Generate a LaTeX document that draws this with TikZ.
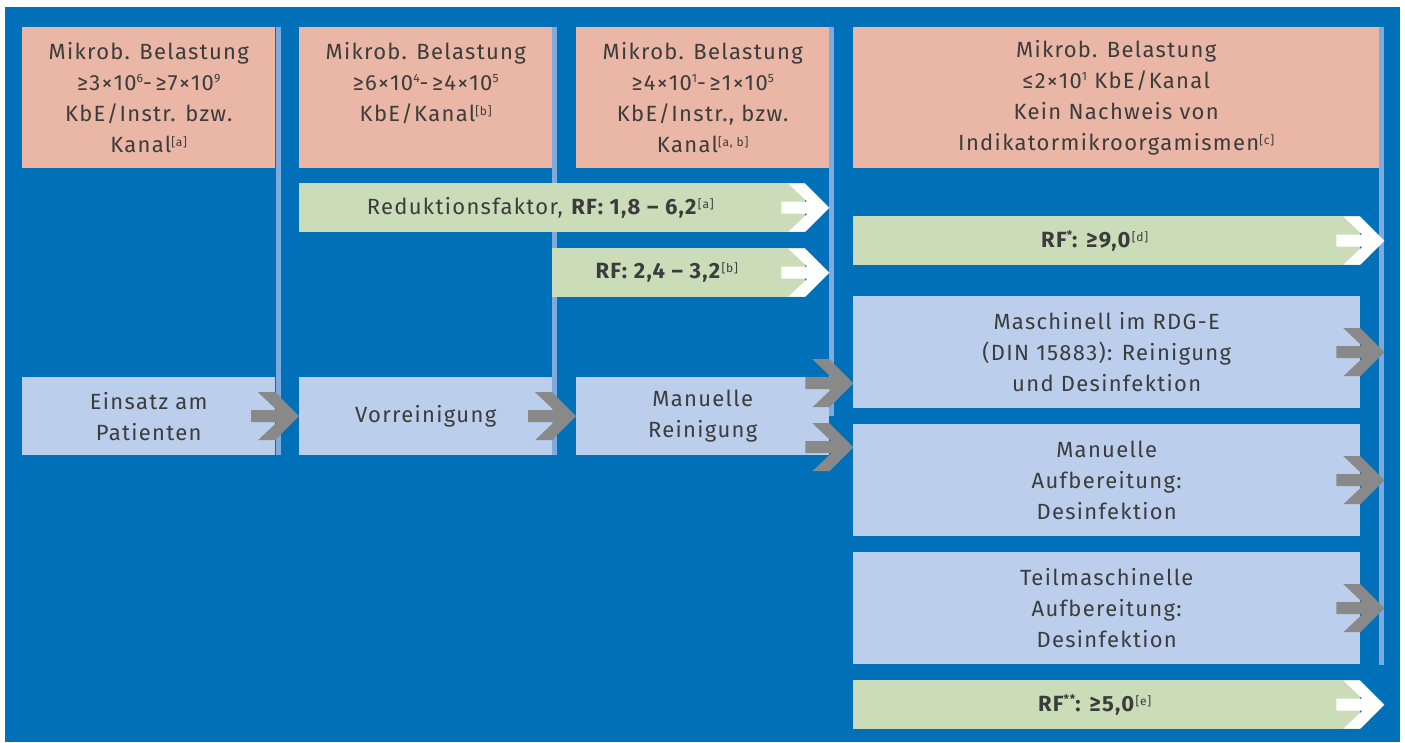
\documentclass[tikz,border=0pt]{standalone}
\usepackage{fontspec}
\setmainfont{Fira Sans}[LetterSpace=6]
\usepackage{tikz}
\usetikzlibrary{calc}
\definecolor{ab_bg}{RGB}{0, 112, 184}
\definecolor{ab_pink}{RGB}{234, 182, 165}
\definecolor{ab_green}{RGB}{203, 220, 185}
\definecolor{ab_blue}{RGB}{187, 206, 236}
\definecolor{ab_line}{RGB}{127, 170, 221}
\definecolor{ab_gray}{RGB}{137, 137, 137}
\definecolor{ab_text}{RGB}{60, 60, 60}
\newcommand{\hoch}[1]{\raisebox{8pt}{\fontsize{12}{12}\selectfont #1}}
\newcommand{\quelle}[1]{\raisebox{6pt}{\fontsize{12}{12}\selectfont\mdseries [#1]}}
\tikzstyle{hd}=[rectangle,fill=ab_pink,anchor=north west,inner sep=0pt,
  minimum height=141pt,align=center,text=ab_text,font=\fontsize{22}{31}\selectfont]
\tikzstyle{st}=[rectangle,fill=ab_blue,anchor=north west,inner sep=0pt,
  align=center,text=ab_text,font=\fontsize{22}{31}\selectfont]
\tikzstyle{rf}=[rectangle,fill=ab_green,anchor=north west,inner sep=0pt,
  minimum height=49pt,text=ab_text,font=\fontsize{22}{31}\selectfont,
  execute at end node=\hspace*{24pt}]
\tikzset{chev/.pic={\fill[#1] (0,0) -- (-24,24) -- (-41,24) -- (-22,6) -- (-48,6)
  -- (-48,-6) -- (-22,-6) -- (-41,-24) -- (-24,-24) -- cycle;}}

\begin{document}
\begin{tikzpicture}[x=1pt,y=-1pt]
            \useasboundingbox (0,0) rectangle (1405,742);
            \fill[ab_bg] (5,7) rectangle (1400,742);
            % column lines
            \fill[ab_line] (276,27) rectangle (281,455);
            \fill[ab_line] (552,27) rectangle (557,455);
            \fill[ab_line] (829,27) rectangle (834,416);
            \fill[ab_line] (1379,27) rectangle (1384,665);
            % headers
            \node [style=hd,minimum width=253pt] (0) at (22,27) {Mikrob. Belastung\\
              ≥3×10\hoch{6}-\,≥7×10\hoch{9}\\ KbE/Instr. bzw.\\ Kanal\quelle{a}};
            \node [style=hd,minimum width=253pt] (1) at (299,27) {Mikrob. Belastung\\
              ≥6×10\hoch{4}-\,≥4×10\hoch{5}\\ KbE/Kanal\quelle{b}\\ ~};
            \node [style=hd,minimum width=253pt] (2) at (576,27) {Mikrob. Belastung\\
              ≥4×10\hoch{1}-\,≥1×10\hoch{5}\\ KbE/Instr., bzw.\\ Kanal\quelle{a, b}};
            \node [style=hd,minimum width=526pt] (3) at (853,27) {Mikrob. Belastung\\
              ≤2×10\hoch{1} KbE/Kanal\\ Kein Nachweis von\\ Indikatormikroorgamismen\quelle{c}};
            % reduction factors
            \node [style=rf,minimum width=506pt] (4) at (299,183)
              {Reduktionsfaktor, \textbf{RF: 1,8 – 6,2}\quelle{a}};
            \node [style=rf,minimum width=253pt] (5) at (552,248)
              {\textbf{RF: 2,4 – 3,2}\quelle{b}};
            \node [style=rf,minimum width=507pt] (6) at (853,216)
              {\textbf{RF\hoch{*}: ≥9,0}\quelle{d}};
            \node [style=rf,minimum width=507pt] (7) at (853,680)
              {\textbf{RF\hoch{**}: ≥5,0}\quelle{e}};
            % steps
            \node [style=st,minimum width=253pt,minimum height=78pt] (8) at (22,377)
              {Einsatz am\\ Patienten};
            \node [style=st,minimum width=253pt,minimum height=78pt] (9) at (299,377)
              {Vorreinigung};
            \node [style=st,minimum width=253pt,minimum height=78pt] (10) at (576,377)
              {Manuelle\\ Reinigung};
            \node [style=st,minimum width=507pt,minimum height=112pt] (11) at (853,296)
              {Maschinell im RDG-E\\ (DIN 15883): Reinigung\\ und Desinfektion};
            \node [style=st,minimum width=507pt,minimum height=112pt] (12) at (853,424)
              {Manuelle\\ Aufbereitung:\\ Desinfektion};
            \node [style=st,minimum width=507pt,minimum height=112pt] (13) at (853,552)
              {Teilmaschinelle\\ Aufbereitung:\\ Desinfektion};
            % arrows
            \pic at ([xshift=24pt]4.east) {chev=white};
            \pic at ([xshift=24pt]5.east) {chev=white};
            \pic at ([xshift=24pt]6.east) {chev=white};
            \pic at ([xshift=24pt]7.east) {chev=white};
            \pic at (9.west) {chev=ab_gray};
            \pic at (10.west) {chev=ab_gray};
            \pic at ([xshift=24pt,yshift=33pt]10.east) {chev=ab_gray};
            \pic at ([xshift=24pt,yshift=-31pt]10.east) {chev=ab_gray};
            \pic at ([xshift=24pt]11.east) {chev=ab_gray};
            \pic at ([xshift=24pt]12.east) {chev=ab_gray};
            \pic at ([xshift=24pt]13.east) {chev=ab_gray};
    \end{tikzpicture}
\end{document}
